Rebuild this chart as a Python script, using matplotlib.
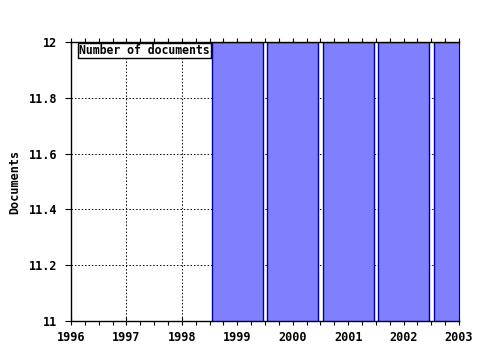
import matplotlib
matplotlib.use("Agg")
import matplotlib.pyplot as plt
from matplotlib.ticker import AutoMinorLocator

years = [1999, 2000, 2001, 2002, 2003]
documents = [12, 12, 12, 12, 12]
xticks = [1996, 1997, 1998, 1999, 2000, 2001, 2002, 2003]
yticks = [11, 11.2, 11.4, 11.6, 11.8, 12]
yticklabels = ["11", "11.2", "11.4", "11.6", "11.8", "12"]

plt.rcParams["font.family"] = "DejaVu Sans Mono"
plt.rcParams["font.weight"] = "bold"

fig = plt.figure(figsize=(4.8, 3.5), dpi=100)
ax = fig.add_axes([71/480, 1-321/350, (459-71)/480, (321-42)/350])

ax.bar(years, documents, width=0.92, color="#8080ff", edgecolor="#0000a0",
       linewidth=1.0, zorder=2)

ax.set_xlim(1996, 2003)
ax.set_ylim(11, 12)
ax.set_xticks(xticks)
ax.set_xticklabels([str(y) for y in xticks], fontsize=8.5, fontweight="bold")
ax.set_yticks(yticks)
ax.set_yticklabels(yticklabels, fontsize=8.5, fontweight="bold")
ax.xaxis.set_minor_locator(AutoMinorLocator(4))

ax.grid(True, which="major", color="black", linestyle=(0, (1.5, 2)), linewidth=0.7, zorder=0)
ax.set_axisbelow(True)

ax.tick_params(axis="x", which="major", direction="inout", length=6, width=0.8, top=True, pad=4)
ax.tick_params(axis="x", which="minor", direction="out", length=3, width=0.8, top=True)
ax.tick_params(axis="y", which="major", direction="out", length=4, width=0.8, pad=6)

for s in ["left", "bottom", "top"]:
    ax.spines[s].set_linewidth(1.0)
    ax.spines[s].set_color("black")
ax.spines["right"].set_color("#0000a0")

ax.set_ylabel("Documents", fontsize=8.5, fontweight="bold", labelpad=5)

ax.text(0.021, 0.993, "Number of documents", transform=ax.transAxes,
        fontsize=8.3, fontweight="bold", va="top", ha="left", zorder=5,
        bbox=dict(boxstyle="square,pad=0.12", facecolor="white",
                  edgecolor="black", linewidth=1.0))

fig.savefig("out.png", dpi=100)
